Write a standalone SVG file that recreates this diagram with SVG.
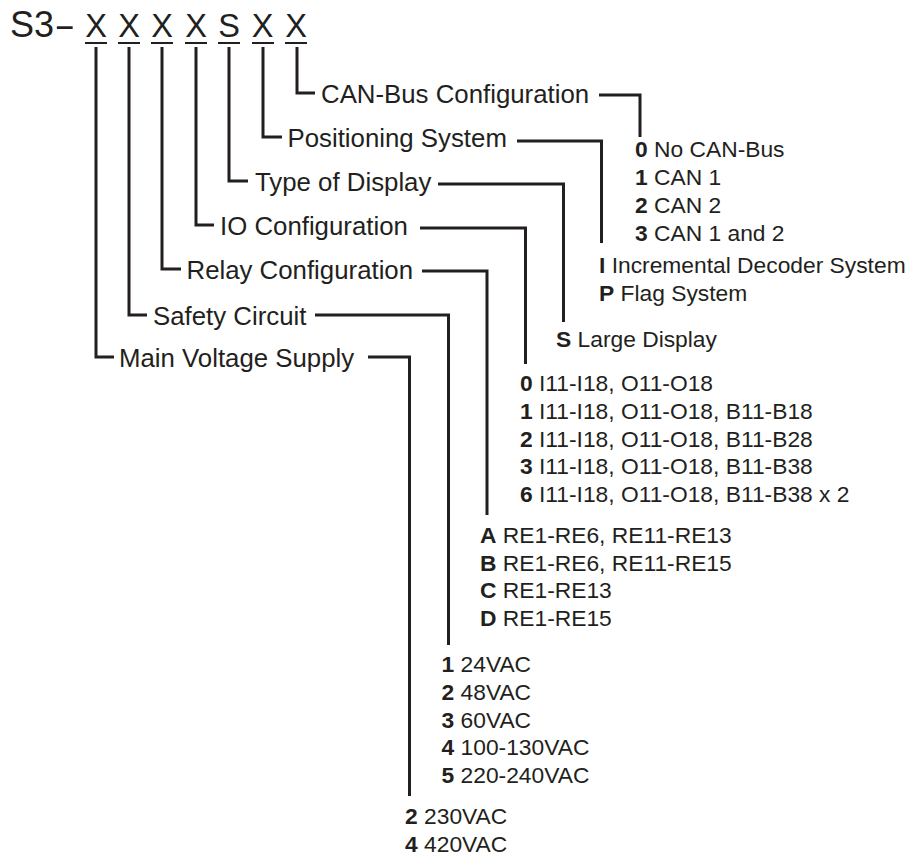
<svg xmlns="http://www.w3.org/2000/svg" width="912" height="859" viewBox="0 0 912 859">
<style>
text{font-family:"Liberation Sans",Arial,sans-serif;fill:#231f20}
.t{font-size:36px}
.x{font-size:32.5px;text-anchor:middle}
.l{font-size:25.8px}
.o{font-size:22.8px}
.b{font-weight:bold}
.c{fill:none;stroke:#231f20;stroke-width:3;stroke-linejoin:miter;stroke-linecap:butt}
.u{fill:none;stroke:#231f20;stroke-width:2}
</style>
<rect width="912" height="859" fill="#fff"/>
<g id="code">
<text class="t" x="10" y="37">S3</text>
<text class="t" transform="translate(54,37) scale(1.8,1)">-</text>
<text class="x" x="96" y="37">X</text>
<text class="x" x="129" y="37">X</text>
<text class="x" x="162" y="37">X</text>
<text class="x" x="196" y="37">X</text>
<text class="x" x="229" y="37">S</text>
<text class="x" x="262.5" y="37">X</text>
<text class="x" x="296" y="37">X</text>
<path class="u" d="M85 43H107M118 43H140M151 43H173M185 43H207M218 43H240M252 43H274M285 43H307"/>
</g>
<g id="connectors">
<path class="c" d="M297 47V93H315M599 95H640V137"/>
<path class="c" d="M263 47V137H282M517 141H601.5V243"/>
<path class="c" d="M229 47V181H248M438 184H563.5V322"/>
<path class="c" d="M196 47V225H214M420 228H525.5V364"/>
<path class="c" d="M162 47V269H181M422 271H487V515"/>
<path class="c" d="M129 47V315H147M315 315H448.5V645"/>
<path class="c" d="M96 47V357H114M368 357H409.5V796"/>
</g>
<g id="can-bus">
<text class="l" x="321" y="103">CAN-Bus Configuration</text>
<text class="o" x="635" y="157"><tspan class="b">0</tspan> No CAN-Bus</text>
<text class="o" x="635" y="185"><tspan class="b">1</tspan> CAN 1</text>
<text class="o" x="635" y="213"><tspan class="b">2</tspan> CAN 2</text>
<text class="o" x="635" y="241"><tspan class="b">3</tspan> CAN 1 and 2</text>
</g>
<g id="positioning">
<text class="l" x="287.5" y="147">Positioning System</text>
<text class="o" x="599" y="273"><tspan class="b">I</tspan> Incremental Decoder System</text>
<text class="o" x="599" y="301"><tspan class="b">P</tspan> Flag System</text>
</g>
<g id="display">
<text class="l" x="255" y="191">Type of Display</text>
<text class="o" x="556" y="346.5"><tspan class="b">S</tspan> Large Display</text>
</g>
<g id="io">
<text class="l" x="220" y="235">IO Configuration</text>
<text class="o" x="520" y="391"><tspan class="b">0</tspan> I11-I18, O11-O18</text>
<text class="o" x="520" y="419"><tspan class="b">1</tspan> I11-I18, O11-O18, B11-B18</text>
<text class="o" x="520" y="446.5"><tspan class="b">2</tspan> I11-I18, O11-O18, B11-B28</text>
<text class="o" x="520" y="474"><tspan class="b">3</tspan> I11-I18, O11-O18, B11-B38</text>
<text class="o" x="520" y="502"><tspan class="b">6</tspan> I11-I18, O11-O18, B11-B38 x 2</text>
</g>
<g id="relay">
<text class="l" x="186.5" y="279">Relay Configuration</text>
<text class="o" x="480" y="543"><tspan class="b">A</tspan> RE1-RE6, RE11-RE13</text>
<text class="o" x="480" y="570.5"><tspan class="b">B</tspan> RE1-RE6, RE11-RE15</text>
<text class="o" x="480" y="598"><tspan class="b">C</tspan> RE1-RE13</text>
<text class="o" x="480" y="626"><tspan class="b">D</tspan> RE1-RE15</text>
</g>
<g id="safety">
<text class="l" x="153" y="325">Safety Circuit</text>
<text class="o" x="441.5" y="672"><tspan class="b">1</tspan> 24VAC</text>
<text class="o" x="441.5" y="700"><tspan class="b">2</tspan> 48VAC</text>
<text class="o" x="441.5" y="727.5"><tspan class="b">3</tspan> 60VAC</text>
<text class="o" x="441.5" y="755"><tspan class="b">4</tspan> 100-130VAC</text>
<text class="o" x="441.5" y="783"><tspan class="b">5</tspan> 220-240VAC</text>
</g>
<g id="main">
<text class="l" x="119" y="367">Main Voltage Supply</text>
<text class="o" x="405" y="824"><tspan class="b">2</tspan> 230VAC</text>
<text class="o" x="405" y="852"><tspan class="b">4</tspan> 420VAC</text>
</g>
</svg>
